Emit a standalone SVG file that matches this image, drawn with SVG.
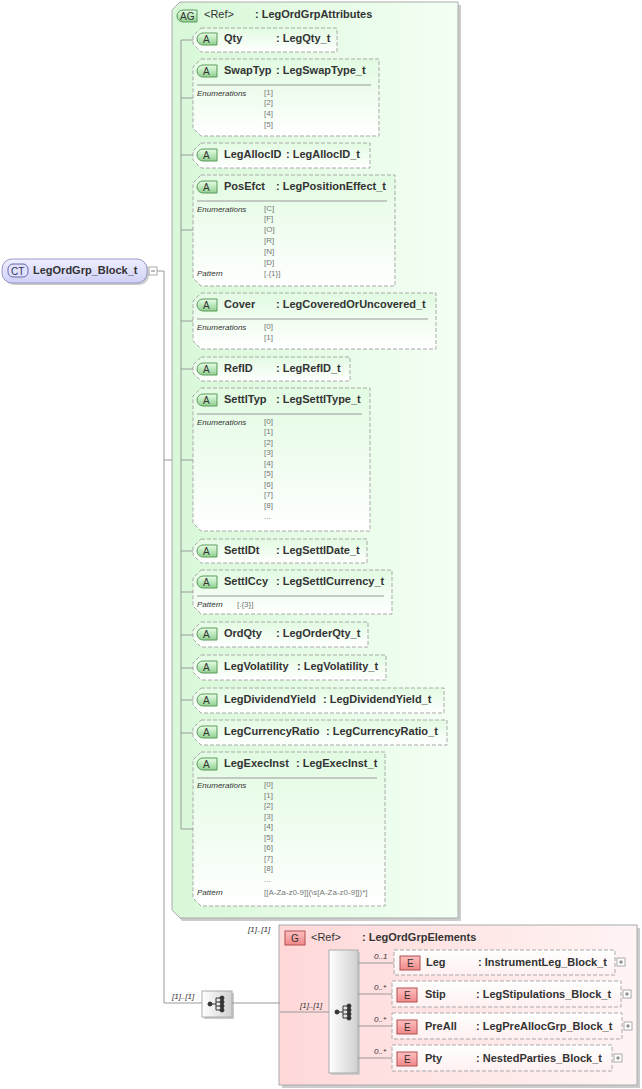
<svg xmlns="http://www.w3.org/2000/svg" width="642" height="1089" viewBox="0 0 642 1089">
<defs>
<linearGradient id="gAG" x1="0" y1="0" x2="1" y2="0"><stop offset="0" stop-color="#d8f8d8"/><stop offset="1" stop-color="#f4fff4"/></linearGradient>
<linearGradient id="gAt" x1="0" y1="0" x2="0" y2="1"><stop offset="0" stop-color="#e2fbe2"/><stop offset="1" stop-color="#ffffff"/></linearGradient>
<linearGradient id="gBadgeA" x1="0" y1="0" x2="0" y2="1"><stop offset="0" stop-color="#e8ffe8"/><stop offset="1" stop-color="#90d090"/></linearGradient>
<linearGradient id="gG" x1="0" y1="0" x2="1" y2="0"><stop offset="0" stop-color="#ffd8d8"/><stop offset="1" stop-color="#fff4f4"/></linearGradient>
<linearGradient id="gE" x1="0" y1="0" x2="0" y2="1"><stop offset="0" stop-color="#ffffff"/><stop offset="1" stop-color="#fff0f0"/></linearGradient>
<linearGradient id="gBadgeE" x1="0" y1="0" x2="0" y2="1"><stop offset="0" stop-color="#ffc0c0"/><stop offset="1" stop-color="#f08888"/></linearGradient>
<linearGradient id="gSeq" x1="0" y1="0" x2="1" y2="0"><stop offset="0" stop-color="#ffffff"/><stop offset="1" stop-color="#d0d0d0"/></linearGradient>
<linearGradient id="gCT" x1="0" y1="0" x2="0" y2="1"><stop offset="0" stop-color="#eeeeff"/><stop offset="1" stop-color="#d0d0f8"/></linearGradient>
<g id="seqIcon"><line x1="-7" y1="0" x2="-1" y2="0"/><line x1="-1" y1="-6" x2="-1" y2="6"/><line x1="-1" y1="-6" x2="5" y2="-6"/><line x1="-1" y1="-2" x2="5" y2="-2"/><line x1="-1" y1="2" x2="5" y2="2"/><line x1="-1" y1="6" x2="5" y2="6"/><circle cx="-7" cy="0" r="2"/><circle cx="5" cy="-6" r="2"/><circle cx="5" cy="-2" r="2"/><circle cx="5" cy="2" r="2"/><circle cx="5" cy="6" r="2"/></g>
</defs>
<style>
text{font-family:"Liberation Sans",Arial,sans-serif}
.t{font-size:11px;font-weight:bold;fill:#333}
.r{font-size:11px;fill:#333}
.lab{font-size:8px;font-style:italic;fill:#333}
.en{font-size:8px;fill:#777}
.k{font-size:8px;font-style:italic;fill:#333}
.at{fill:url(#gAt);stroke:#aaa;stroke-dasharray:4 2}
.el{fill:url(#gE);stroke:#aaa;stroke-dasharray:4 2}
.bA{fill:url(#gBadgeA);stroke:#5a9a5a}
.bE{fill:url(#gBadgeE);stroke:#b05050}
.ln{stroke:#999;fill:none}
.div{stroke:#999}
.pl{fill:#fff;stroke:#aaa}
.seq use{stroke:#333;fill:#333}
</style>

<g id="ct">
<rect x="4" y="261" width="145" height="24" rx="10" fill="#ccc"/>
<rect x="2" y="259" width="145" height="24" rx="10" fill="url(#gCT)" stroke="#9a9ac8"/>
<rect x="8" y="264" width="20" height="13" rx="5" fill="#e0e0ff" stroke="#6a6aa8"/>
<text x="11" y="275" style="font-size:10px;fill:#335">CT</text>
<text class="t" x="33" y="274">LegOrdGrp_Block_t</text>
<rect class="pl" x="149" y="267" width="8" height="8"/><line x1="151" y1="271" x2="155" y2="271" stroke="#777"/>
</g>

<g id="ag">
<polygon points="182,5 461,5 461,921 182,921 175,913 175,13" fill="#ccc"/>
<polygon points="180,2 458,2 458,918 180,918 172,910 172,10" fill="url(#gAG)" stroke="#aaa"/>
<path d="M177 16a6 6 0 0 1 6-6h14v12h-14a6 6 0 0 1-6-6z" class="bA"/>
<text x="180" y="20" style="font-size:10px;fill:#333">AG</text>
<text class="r" x="204" y="18">&lt;Ref&gt;</text><text class="t" x="255" y="18">: LegOrdGrpAttributes</text>
</g>

<g id="attrs">
<g id="a-qty"><polygon class="at" points="201,28 337,28 337,52 201,52 193,44 193,36"/><path class="bA" d="M197 39a6 6 0 0 1 6-6h14v12h-14a6 6 0 0 1-6-6z"/><text x="203" y="43" style="font-size:10px;fill:#333">A</text><text class="t" x="224" y="42">Qty</text><text class="t" x="276" y="42">: LegQty_t</text></g>

<g id="a-swap"><polygon class="at" points="201,59 379,59 379,136 201,136 193,128 193,67"/><path class="bA" d="M197 71a6 6 0 0 1 6-6h14v12h-14a6 6 0 0 1-6-6z"/><text x="203" y="75" style="font-size:10px;fill:#333">A</text><text class="t" x="224" y="74">SwapTyp</text><text class="t" x="276" y="74">: LegSwapType_t</text><line class="div" x1="197" y1="85" x2="371" y2="85"/><text class="k" x="197" y="96">Enumerations</text><text class="en" x="264" y="95">[1]</text><text class="en" x="264" y="105">[2]</text><text class="en" x="264" y="116">[4]</text><text class="en" x="264" y="127">[5]</text></g>

<g id="a-alloc"><polygon class="at" points="201,143 370,143 370,168 201,168 193,160 193,151"/><path class="bA" d="M197 155a6 6 0 0 1 6-6h14v12h-14a6 6 0 0 1-6-6z"/><text x="203" y="159" style="font-size:10px;fill:#333">A</text><text class="t" x="224" y="158">LegAllocID</text><text class="t" x="286" y="158">: LegAllocID_t</text></g>

<g id="a-pos"><polygon class="at" points="201,175 395,175 395,286 201,286 193,278 193,183"/><path class="bA" d="M197 187a6 6 0 0 1 6-6h14v12h-14a6 6 0 0 1-6-6z"/><text x="203" y="191" style="font-size:10px;fill:#333">A</text><text class="t" x="224" y="190">PosEfct</text><text class="t" x="276" y="190">: LegPositionEffect_t</text><line class="div" x1="197" y1="201" x2="387" y2="201"/><text class="k" x="197" y="212">Enumerations</text><text class="en" x="264" y="211">[C]</text><text class="en" x="264" y="221">[F]</text><text class="en" x="264" y="232">[O]</text><text class="en" x="264" y="243">[R]</text><text class="en" x="264" y="254">[N]</text><text class="en" x="264" y="265">[D]</text><text class="k" x="197" y="276">Pattern</text><text class="en" x="264" y="276">[.{1}]</text></g>

<g id="a-cover"><polygon class="at" points="201,293 436,293 436,349 201,349 193,341 193,301"/><path class="bA" d="M197 305a6 6 0 0 1 6-6h14v12h-14a6 6 0 0 1-6-6z"/><text x="203" y="309" style="font-size:10px;fill:#333">A</text><text class="t" x="224" y="308">Cover</text><text class="t" x="276" y="308">: LegCoveredOrUncovered_t</text><line class="div" x1="197" y1="319" x2="428" y2="319"/><text class="k" x="197" y="330">Enumerations</text><text class="en" x="264" y="329">[0]</text><text class="en" x="264" y="340">[1]</text></g>

<g id="a-refid"><polygon class="at" points="201,357 350,357 350,381 201,381 193,373 193,365"/><path class="bA" d="M197 369a6 6 0 0 1 6-6h14v12h-14a6 6 0 0 1-6-6z"/><text x="203" y="373" style="font-size:10px;fill:#333">A</text><text class="t" x="224" y="372">RefID</text><text class="t" x="276" y="372">: LegRefID_t</text></g>

<g id="a-settltyp"><polygon class="at" points="201,388 370,388 370,531 201,531 193,523 193,396"/><path class="bA" d="M197 400a6 6 0 0 1 6-6h14v12h-14a6 6 0 0 1-6-6z"/><text x="203" y="404" style="font-size:10px;fill:#333">A</text><text class="t" x="224" y="403">SettlTyp</text><text class="t" x="276" y="403">: LegSettlType_t</text><line class="div" x1="197" y1="414" x2="362" y2="414"/><text class="k" x="197" y="425">Enumerations</text><text class="en" x="264" y="424">[0]</text><text class="en" x="264" y="434">[1]</text><text class="en" x="264" y="445">[2]</text><text class="en" x="264" y="455">[3]</text><text class="en" x="264" y="466">[4]</text><text class="en" x="264" y="476">[5]</text><text class="en" x="264" y="487">[6]</text><text class="en" x="264" y="497">[7]</text><text class="en" x="264" y="508">[8]</text><text class="en" x="264" y="519">...</text></g>

<g id="a-settldt"><polygon class="at" points="201,539 367,539 367,563 201,563 193,555 193,547"/><path class="bA" d="M197 551a6 6 0 0 1 6-6h14v12h-14a6 6 0 0 1-6-6z"/><text x="203" y="555" style="font-size:10px;fill:#333">A</text><text class="t" x="224" y="554">SettlDt</text><text class="t" x="276" y="554">: LegSettlDate_t</text></g>

<g id="a-settlccy"><polygon class="at" points="201,570 392,570 392,614 201,614 193,606 193,578"/><path class="bA" d="M197 582a6 6 0 0 1 6-6h14v12h-14a6 6 0 0 1-6-6z"/><text x="203" y="586" style="font-size:10px;fill:#333">A</text><text class="t" x="224" y="585">SettlCcy</text><text class="t" x="276" y="585">: LegSettlCurrency_t</text><line class="div" x1="197" y1="596" x2="384" y2="596"/><text class="k" x="197" y="607">Pattern</text><text class="en" x="237" y="607">[.{3}]</text></g>

<g id="a-ordqty"><polygon class="at" points="201,622 368,622 368,647 201,647 193,639 193,630"/><path class="bA" d="M197 634a6 6 0 0 1 6-6h14v12h-14a6 6 0 0 1-6-6z"/><text x="203" y="638" style="font-size:10px;fill:#333">A</text><text class="t" x="224" y="637">OrdQty</text><text class="t" x="276" y="637">: LegOrderQty_t</text></g>

<g id="a-vol"><polygon class="at" points="201,655 386,655 386,680 201,680 193,672 193,663"/><path class="bA" d="M197 667a6 6 0 0 1 6-6h14v12h-14a6 6 0 0 1-6-6z"/><text x="203" y="671" style="font-size:10px;fill:#333">A</text><text class="t" x="224" y="670">LegVolatility</text><text class="t" x="297" y="670">: LegVolatility_t</text></g>

<g id="a-div"><polygon class="at" points="201,688 444,688 444,713 201,713 193,705 193,696"/><path class="bA" d="M197 700a6 6 0 0 1 6-6h14v12h-14a6 6 0 0 1-6-6z"/><text x="203" y="704" style="font-size:10px;fill:#333">A</text><text class="t" x="224" y="703">LegDividendYield</text><text class="t" x="323" y="703">: LegDividendYield_t</text></g>

<g id="a-ccyr"><polygon class="at" points="201,720 447,720 447,745 201,745 193,737 193,728"/><path class="bA" d="M197 732a6 6 0 0 1 6-6h14v12h-14a6 6 0 0 1-6-6z"/><text x="203" y="736" style="font-size:10px;fill:#333">A</text><text class="t" x="224" y="735">LegCurrencyRatio</text><text class="t" x="326" y="735">: LegCurrencyRatio_t</text></g>

<g id="a-exec"><polygon class="at" points="201,752 385,752 385,906 201,906 193,898 193,760"/><path class="bA" d="M197 764a6 6 0 0 1 6-6h14v12h-14a6 6 0 0 1-6-6z"/><text x="203" y="768" style="font-size:10px;fill:#333">A</text><text class="t" x="224" y="767">LegExecInst</text><text class="t" x="296" y="767">: LegExecInst_t</text><line class="div" x1="197" y1="778" x2="377" y2="778"/><text class="k" x="197" y="788">Enumerations</text><text class="en" x="264" y="787">[0]</text><text class="en" x="264" y="798">[1]</text><text class="en" x="264" y="808">[2]</text><text class="en" x="264" y="819">[3]</text><text class="en" x="264" y="829">[4]</text><text class="en" x="264" y="840">[5]</text><text class="en" x="264" y="850">[6]</text><text class="en" x="264" y="861">[7]</text><text class="en" x="264" y="871">[8]</text><text class="en" x="264" y="882">...</text><text class="k" x="197" y="895">Pattern</text><text class="en" x="264" y="895">[[A-Za-z0-9]](\s[A-Za-z0-9]])*]</text></g>
</g>

<g id="seq1"><rect x="204" y="993" width="30" height="26" fill="#ccc"/><rect x="202" y="991" width="30" height="26" fill="url(#gSeq)" stroke="#aaa"/><g class="seq"><use href="#seqIcon" x="217" y="1004"/></g></g>

<g id="grp">
<rect x="282" y="928" width="358" height="160" fill="#ccc"/>
<rect x="279" y="925" width="358" height="160" fill="url(#gG)" stroke="#aaa"/>
<rect x="285" y="931" width="20" height="14" class="bE"/><text x="291" y="942" style="font-size:10px;fill:#333">G</text>
<text class="r" x="311" y="941">&lt;Ref&gt;</text><text class="t" x="362" y="941">: LegOrdGrpElements</text>
<rect x="331" y="952" width="29" height="123" fill="#ccc"/>
<rect x="329" y="950" width="29" height="123" fill="url(#gSeq)" stroke="#aaa"/>
<g class="seq"><use href="#seqIcon" x="344" y="1012"/></g>
</g>

<g id="e-leg"><rect class="el" x="394" y="950" width="221" height="25"/><rect class="bE" x="400" y="956" width="20" height="14"/><text x="407" y="967" style="font-size:10px;fill:#333">E</text><text class="t" x="426" y="966">Leg</text><text class="t" x="478" y="966">: InstrumentLeg_Block_t</text><rect class="pl" x="617" y="958" width="8" height="8"/><path d="M619 962h4M621 960v4" stroke="#777"/></g>
<g id="e-stip"><rect class="el" x="392" y="981" width="229" height="26"/><rect class="bE" x="397" y="988" width="20" height="14"/><text x="404" y="999" style="font-size:10px;fill:#333">E</text><text class="t" x="425" y="998">Stip</text><text class="t" x="476" y="998">: LegStipulations_Block_t</text><rect class="pl" x="623" y="990" width="8" height="8"/><path d="M625 994h4M627 992v4" stroke="#777"/></g>
<g id="e-preall"><rect class="el" x="392" y="1013" width="230" height="26"/><rect class="bE" x="397" y="1020" width="20" height="14"/><text x="404" y="1031" style="font-size:10px;fill:#333">E</text><text class="t" x="425" y="1030">PreAll</text><text class="t" x="476" y="1030">: LegPreAllocGrp_Block_t</text><rect class="pl" x="624" y="1022" width="8" height="8"/><path d="M626 1026h4M628 1024v4" stroke="#777"/></g>
<g id="e-pty"><rect class="el" x="392" y="1045" width="220" height="26"/><rect class="bE" x="397" y="1052" width="20" height="14"/><text x="404" y="1063" style="font-size:10px;fill:#333">E</text><text class="t" x="425" y="1062">Pty</text><text class="t" x="476" y="1062">: NestedParties_Block_t</text><rect class="pl" x="614" y="1054" width="8" height="8"/><path d="M616 1058h4M618 1056v4" stroke="#777"/></g>

<g id="connectors">
<path class="ln" d="M157 271H164V1003H202M164 460H172"/>
<path class="ln" d="M181 40V829M181 40H193M181 98H193M181 155H193M181 230H193M181 321H193M181 369H193M181 460H193M181 551H193M181 592H193M181 635H193M181 668H193M181 700H193M181 733H193M181 829H193"/>
<path class="ln" d="M232 1003H280M280 1012H329M358 963H394M358 994H392M358 1026H392M358 1058H392"/>
<text class="lab" x="172" y="999">[1]..[1]</text>
<text class="lab" x="300" y="1008">[1]..[1]</text>
<text class="lab" x="248" y="932">[1]..[1]</text>
<text class="lab" x="374" y="959">0..1</text>
<text class="lab" x="374" y="990">0..*</text>
<text class="lab" x="374" y="1022">0..*</text>
<text class="lab" x="374" y="1054">0..*</text>
</g>
</svg>
